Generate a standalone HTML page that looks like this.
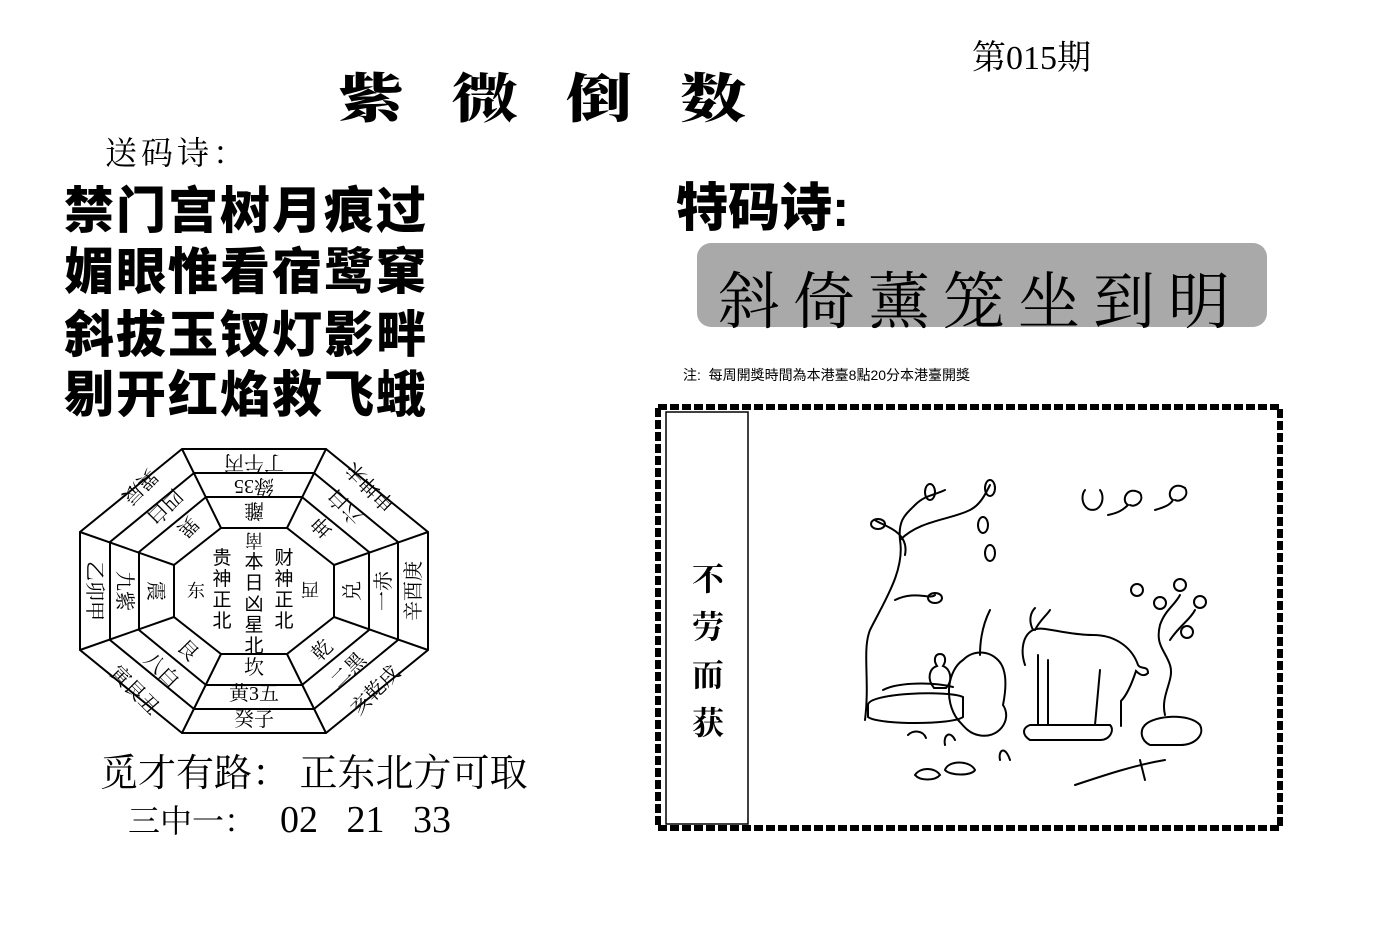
<!DOCTYPE html>
<html><head><meta charset="utf-8"><style>
body{margin:0;width:1391px;height:946px;background:#fff;position:relative;overflow:hidden;font-family:"Liberation Serif","Noto Serif CJK SC",serif;color:#000}
.a{position:absolute;white-space:nowrap}
.poem{font-family:"Liberation Sans","Noto Sans CJK SC",sans-serif;font-weight:900;font-size:50px;line-height:50px;left:64px;letter-spacing:2px}
</style></head><body>
<div class="a" style="left:972px;top:30px;font-size:34px">第015期</div>
<div class="a" style="left:338px;top:56px;font-size:66px;font-weight:900;letter-spacing:48px;font-family:'Noto Serif CJK SC',serif;transform:scaleY(0.8);transform-origin:top left">紫微倒数</div>
<div class="a" style="left:105px;top:128px;font-size:32px;font-family:'Liberation Serif','Noto Serif CJK SC',serif;letter-spacing:4px">送码诗：</div>
<div class="a poem" style="top:186px">禁门宫树月痕过</div>
<div class="a poem" style="top:247px">媚眼惟看宿鹭窠</div>
<div class="a poem" style="top:310px">斜拔玉钗灯影畔</div>
<div class="a poem" style="top:370px">剔开红焰救飞蛾</div>
<div class="a" style="left:676px;top:166px;font-size:52px;font-weight:900;font-family:'Liberation Sans','Noto Sans CJK SC',sans-serif">特码诗:</div>
<div class="a" style="left:697px;top:243px;width:570px;height:84px;background:#a9a9a9;border-radius:14px"></div>
<div class="a" style="left:718px;top:252px;font-size:62px;letter-spacing:13px;font-family:'Noto Serif CJK SC',serif">斜倚薰笼坐到明</div>
<div class="a" style="left:683px;top:365px;font-size:14px;font-family:'Liberation Sans','Noto Sans CJK SC',sans-serif">注:&nbsp; 每周開獎時間為本港臺8點20分本港臺開獎</div>
<div class="a" style="left:100px;top:742px;font-size:38px;font-family:'Liberation Serif','Noto Serif CJK SC',serif">觅才有路：&nbsp;正东北方可取</div>
<div class="a" style="left:128px;top:796px;font-size:32px;font-family:'Liberation Serif','Noto Serif CJK SC',serif">三中一：&nbsp;&nbsp; <span style="font-size:38px">02&nbsp;&nbsp; 21&nbsp;&nbsp; 33</span></div>

<svg class="a" style="left:0;top:0" width="1391" height="946" font-family="Liberation Serif,Noto Serif CJK SC,serif">
<g fill="none" stroke="#000" stroke-width="2">
<polygon points="182,449 326,449 428,532 428,650 326,733 182,733 80,650 80,532"/>
<polygon points="194,473 314,473 398,542 398,640 314,709 194,709 110,640 110,542"/>
<polygon points="206,497 302,497 369,552 369,630 302,685 206,685 139,630 139,552"/>
<polygon points="221,528 287,528 334,565 334,617 287,654 221,654 174,617 174,565"/>
<path d="M221,528L182,449M287,528L326,449M334,565L428,532M334,617L428,650M287,654L326,733M221,654L182,733M174,617L80,650M174,565L80,532"/>
</g>
<g font-size="20" text-anchor="middle">
<text x="254" y="470" transform="rotate(180 254 463)">丁午丙</text>
<text x="254" y="494" transform="rotate(180 254 487)">綠35</text>
<text x="254" y="518" transform="rotate(180 254 511)">離</text>
<text x="254" y="674">坎</text>
<text x="254" y="700">黄3五</text>
<text x="254" y="726">癸子</text>
<text x="156" y="598" transform="rotate(90 156 591)">震</text>
<text x="125" y="598" transform="rotate(90 125 591)">九紫</text>
<text x="95" y="598" transform="rotate(90 95 591)">乙卯甲</text>
<text x="352" y="598" transform="rotate(-90 352 591)">兑</text>
<text x="383" y="598" transform="rotate(-90 383 591)">一赤</text>
<text x="413" y="598" transform="rotate(-90 413 591)">辛酉庚</text>
<text x="188" y="534" transform="rotate(135 188 527)">巽</text>
<text x="165" y="514" transform="rotate(135 165 507)">四白</text>
<text x="140" y="494" transform="rotate(135 140 487)">巽辰</text>
<text x="322" y="534" transform="rotate(-135 322 527)">坤</text>
<text x="345" y="514" transform="rotate(-135 345 507)">六白</text>
<text x="370" y="494" transform="rotate(-135 370 487)">申坤未</text>
<text x="188" y="657" transform="rotate(45 188 650)">艮</text>
<text x="162" y="677" transform="rotate(45 162 670)">八白</text>
<text x="135" y="697" transform="rotate(45 135 690)">寅艮丑</text>
<text x="322" y="657" transform="rotate(-45 322 650)">乾</text>
<text x="348" y="677" transform="rotate(-45 348 670)">二黑</text>
<text x="375" y="697" transform="rotate(-45 375 690)">亥乾戌</text>
<text x="196" y="597" font-size="18">东</text>
<text x="310" y="597" font-size="18" transform="rotate(180 310 590)">西</text>
<text x="254" y="548" font-size="18" transform="rotate(180 254 541)">南</text>
</g>
<g font-size="19" text-anchor="middle" font-family="Liberation Sans,Noto Sans CJK SC,sans-serif">
<text x="222" y="564">贵</text><text x="222" y="585">神</text><text x="222" y="606">正</text><text x="222" y="627">北</text>
<text x="254" y="568">本</text><text x="254" y="589">日</text><text x="254" y="610">凶</text><text x="254" y="631">星</text><text x="254" y="652">北</text>
<text x="284" y="564">财</text><text x="284" y="585">神</text><text x="284" y="606">正</text><text x="284" y="627">北</text>
</g>
<rect x="658" y="407" width="622" height="421" fill="none" stroke="#000" stroke-width="6" stroke-dasharray="9,3"/>
<rect x="666" y="412" width="82" height="412" fill="none" stroke="#000" stroke-width="1.5"/>
<g font-size="32" font-weight="bold" text-anchor="middle" font-family="Noto Serif CJK SC,serif">
<text x="708" y="590">不</text><text x="708" y="638">劳</text><text x="708" y="686">而</text><text x="708" y="734">获</text>
</g>
<g fill="none" stroke="#000" stroke-width="2" stroke-linecap="round">
<path d="M865,720 C870,680 862,650 870,630 C885,600 905,570 900,540 C898,520 905,515 915,505 C925,495 935,495 945,490 M900,540 C920,520 950,520 970,510 C980,505 985,495 990,485 M905,555 C910,530 880,525 875,520 M895,600 C915,590 930,600 935,595"/>
<ellipse cx="878" cy="524" rx="7" ry="5"/><ellipse cx="930" cy="492" rx="5" ry="8"/><ellipse cx="990" cy="488" rx="5" ry="8"/><ellipse cx="983" cy="525" rx="5" ry="8"/><ellipse cx="990" cy="553" rx="5" ry="8"/><ellipse cx="935" cy="598" rx="7" ry="5"/>
<path d="M1085,490 a10,12 0 1,0 15,0"/>
<path d="M1108,515 c10,-2 15,-5 20,-10 c-8,-5 0,-20 12,-12 c5,8 -5,15 -10,12 M1155,510 c10,-3 15,-5 18,-10 c-8,-5 0,-20 12,-12 c5,8 -5,15 -10,12"/>
<path d="M868,705 c0,-12 80,-15 95,-8 l0,20 c-10,8 -85,8 -95,0 z M883,690 c15,-8 50,-8 70,-3"/>
<path d="M934,688 c-8,-10 -4,-20 3,-22 c-4,-6 -2,-12 3,-12 c5,0 7,6 3,12 c8,3 10,15 3,22 z"/>
<path d="M958,720 c-15,-20 -10,-50 5,-60 c10,-10 25,-10 35,0 c10,10 8,30 5,45 c10,15 -5,35 -25,30 c-10,-2 -15,-10 -20,-15 z M980,655 c0,-20 5,-35 10,-45"/>
<path d="M1030,725 l80,0 c5,5 0,15 -10,15 l-70,0 c-8,-5 -8,-12 0,-15 z"/>
<path d="M1025,665 c-5,-15 -2,-30 8,-35 c10,-5 30,5 60,5 c25,0 40,15 45,30 c3,5 10,0 10,8 c-5,5 -10,0 -12,-2 c-5,15 -10,25 -15,30 l0,25 M1038,655 l0,70 M1048,660 l0,65 M1100,670 l-5,55 M1033,630 c-5,-10 -2,-18 2,-22 M1035,630 c5,-10 12,-15 15,-20"/>
<path d="M1145,725 c10,-10 45,-12 55,0 c5,10 -5,20 -20,20 l-30,0 c-10,-5 -10,-15 -5,-20 z M1165,715 c-5,-20 10,-35 5,-50 c-5,-15 -15,-20 -10,-40 c5,-15 15,-20 20,-30 M1170,640 c10,-15 20,-20 25,-30"/>
<circle cx="1137" cy="590" r="6"/><circle cx="1160" cy="603" r="6"/><circle cx="1180" cy="585" r="6"/><circle cx="1200" cy="602" r="6"/><circle cx="1187" cy="632" r="6"/>
<path d="M1075,785 c30,-10 60,-20 90,-25 M1140,760 l5,20"/>
<path d="M915,775 c5,-8 20,-8 25,0 c-5,6 -20,6 -25,0 z M945,770 c3,-10 25,-10 30,0 c-3,6 -25,6 -30,0 z M908,735 c5,-5 15,-5 18,3 M945,745 c-2,-10 5,-15 10,-5 M1000,760 c-2,-10 5,-15 10,0"/>
</g>
</svg>
</body></html>
